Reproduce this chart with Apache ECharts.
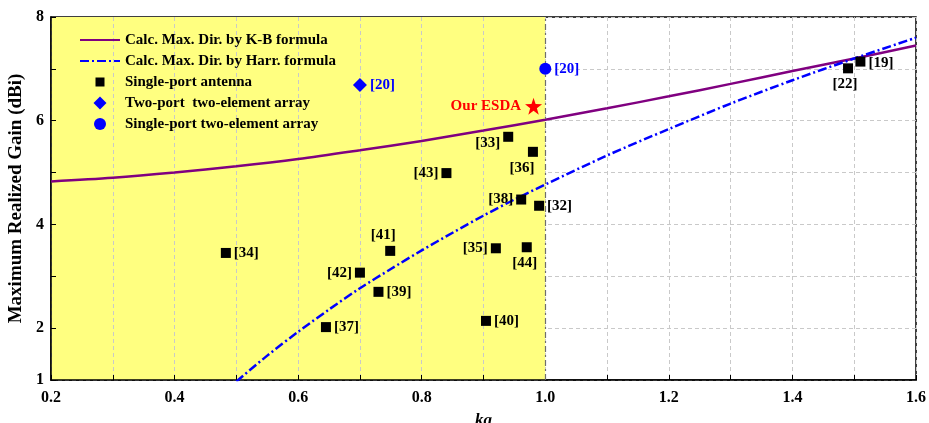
<!DOCTYPE html>
<html>
<head>
<meta charset="utf-8">
<script src="https://cdn.jsdelivr.net/npm/echarts@6/dist/echarts.min.js"></script>
<style>
  html, body { margin: 0; padding: 0; background: #fff; }
  #chart { width: 929px; height: 423px; }
</style>
</head>
<body>
<div id="chart"></div>
<script>
// Directivity limit from the K-B formula (dBi) sampled over ka
const kbKa   = [0.2, 0.3, 0.4, 0.5, 0.6, 0.7, 0.8, 0.9, 1.0, 1.1, 1.2, 1.3, 1.4, 1.5, 1.6];
const kbGain = [4.83, 4.90, 5.00, 5.12, 5.26, 5.43, 5.61, 5.81, 6.02, 6.24, 6.47, 6.71, 6.96, 7.20, 7.45];

// Directivity limit from the Harrington formula (dBi)
const harrKa   = [0.5, 0.55, 0.6, 0.65, 0.7, 0.75, 0.8, 0.85, 0.9, 0.95, 1.0, 1.1, 1.2, 1.3, 1.4, 1.5, 1.6];
const harrGain = [0.97, 1.47, 1.93, 2.36, 2.77, 3.14, 3.50, 3.84, 4.17, 4.48, 4.77, 5.33, 5.84, 6.33, 6.78, 7.20, 7.60];

// Single-port antennas from the literature
const singleRefs = ['[34]', '[37]', '[42]', '[39]', '[41]', '[43]', '[40]', '[35]', '[44]', '[33]', '[36]', '[38]', '[32]', '[22]', '[19]'];
const singleKa   = [0.483, 0.645, 0.700, 0.730, 0.749, 0.840, 0.904, 0.920, 0.970, 0.940, 0.980, 0.961, 0.990, 1.490, 1.510];
const singleGain = [3.45, 2.02, 3.07, 2.70, 3.49, 4.99, 2.14, 3.54, 3.56, 5.69, 5.40, 4.48, 4.36, 7.01, 7.14];

// Two-port two-element array
const twoPortRefs = ['[20]'];
const twoPortKa   = [0.700];
const twoPortGain = [6.69];

// Single-port two-element array
const onePortArrRefs = ['[20]'];
const onePortArrKa   = [1.000];
const onePortArrGain = [7.00];

// This work
const esdaName = ['Our ESDA'];
const esdaKa   = [0.981];
const esdaGain = [6.28];

// Electrically small region: ka from 0.2 up to 1.0
const smallRegion = [0.2, 1.0];

// Tick labels
const xTickLabels = ['0.2', '0.4', '0.6', '0.8', '1.0', '1.2', '1.4', '1.6'];
const yTickLabels = ['1', '2', '4', '6', '8'];

const FONT = "'Liberation Serif', 'Times New Roman', serif";
const X_MIN = 0.2, X_MAX = 1.6, X_STEP = 0.1;

// Where each literature label sits around its marker
const labelSide = {
  '[34]': { position: 'right' },
  '[37]': { position: 'right' },
  '[42]': { position: 'left' },
  '[39]': { position: 'right' },
  '[41]': { position: 'top', offset: [-7, 0] },
  '[43]': { position: 'left' },
  '[40]': { position: 'right' },
  '[35]': { position: 'left' },
  '[44]': { position: 'bottom', offset: [-2, 0] },
  '[33]': { position: 'left', offset: [0, 6] },
  '[36]': { position: 'bottom', offset: [-11, 1] },
  '[38]': { position: 'left' },
  '[32]': { position: 'right' },
  '[22]': { position: 'bottom', offset: [-3, 0] },
  '[19]': { position: 'right', offset: [0, 2] }
};

const zip = (xs, ys) => xs.map((x, i) => [x, ys[i]]);

const singleData = singleKa.map((x, i) => ({
  value: [x, singleGain[i]],
  name: singleRefs[i],
  label: Object.assign({}, labelSide[singleRefs[i]])
}));

// Background bands per 0.1 step of ka: yellow inside the small-antenna region
const bandColors = [];
for (let k = 0; k < Math.round((X_MAX - X_MIN) / X_STEP); k++) {
  const start = X_MIN + k * X_STEP;
  bandColors.push(start < smallRegion[1] - 1e-9 ? '#ffff80' : 'rgba(255,255,255,0)');
}

const labelText = {
  show: true,
  fontFamily: FONT,
  fontWeight: 'bold',
  fontSize: 15,
  distance: 3,
  formatter: p => p.name
};

// Legend glyphs, padded inside a 13x13 box so they keep their own size
const ICON_SQUARE  = 'path://M0,0M13,13M2,2H11V11H2Z';
const ICON_DIAMOND = 'path://M6.5,0L13,6.5L6.5,13L0,6.5Z';
const ICON_CIRCLE  = 'path://M0,0M13,13M6.5,0.5A6,6,0,1,1,6.5,12.5A6,6,0,1,1,6.5,0.5Z';

const chart = echarts.init(document.getElementById('chart'), null, { renderer: 'canvas' });

chart.setOption({
  animation: false,
  backgroundColor: '#ffffff',
  grid: {
    left: 51, right: 13, top: 17, bottom: 43,
    outerBoundsMode: 'none',
    containLabel: false,
    show: true, borderColor: '#000', borderWidth: 1.5, backgroundColor: 'transparent'
  },
  legend: {
    data: [
      { name: 'Calc. Max. Dir. by K-B formula', itemStyle: { opacity: 0 } },
      { name: 'Calc. Max. Dir. by Harr. formula', itemStyle: { opacity: 0 } },
      { name: 'Single-port antenna', icon: ICON_SQUARE },
      { name: 'Two-port  two-element array', icon: ICON_DIAMOND },
      { name: 'Single-port two-element array', icon: ICON_CIRCLE }
    ],
    orient: 'vertical',
    left: 79, top: 32,
    padding: 0,
    itemWidth: 40, itemHeight: 13, itemGap: 5,
    textStyle: { fontFamily: FONT, fontWeight: 'bold', fontSize: 15, color: '#000', lineHeight: 16 }
  },
  xAxis: {
    type: 'value',
    min: X_MIN, max: X_MAX, interval: X_STEP,
    name: 'ka', nameLocation: 'middle', nameGap: 32,
    nameTextStyle: { fontFamily: FONT, fontWeight: 'bold', fontStyle: 'italic', fontSize: 17, color: '#000' },
    axisLine: { lineStyle: { color: '#000', width: 1.5 } },
    axisTick: { inside: true, length: 5, lineStyle: { color: '#000', width: 1 } },
    axisLabel: {
      fontFamily: FONT, fontWeight: 'bold', fontSize: 16, color: '#000', margin: 10,
      formatter: v => {
        const s = v.toFixed(1);
        return xTickLabels.includes(s) ? s : '';
      }
    },
    splitArea: { show: true, areaStyle: { color: bandColors } },
    splitLine: { show: true, lineStyle: { color: '#c9c9c9', type: [4, 3], width: 1 } }
  },
  yAxis: {
    type: 'value',
    min: 1, max: 8, interval: 1,
    name: 'Maximum Realized Gain (dBi)', nameLocation: 'middle', nameGap: 20,
    nameTextStyle: { fontFamily: FONT, fontWeight: 'bold', fontSize: 19, color: '#000' },
    axisLine: { lineStyle: { color: '#000', width: 1.5 } },
    axisTick: { inside: true, length: 5, lineStyle: { color: '#000', width: 1 } },
    axisLabel: {
      fontFamily: FONT, fontWeight: 'bold', fontSize: 16, color: '#000', margin: 7,
      formatter: v => {
        const s = String(Math.round(v));
        return yTickLabels.includes(s) ? s : '';
      }
    },
    splitLine: { show: true, lineStyle: { color: '#c9c9c9', type: [4, 3], width: 1 } }
  },
  series: [
    {
      name: 'Calc. Max. Dir. by K-B formula',
      type: 'line',
      data: zip(kbKa, kbGain),
      smooth: 0.3,
      symbol: 'none',
      lineStyle: { color: '#800080', width: 2.5 },
      itemStyle: { color: '#800080' },
      // boundary of the electrically small region
      markLine: {
        silent: true,
        symbol: 'none',
        label: { show: false },
        lineStyle: { color: '#6e6e6e', type: [6, 3, 2, 3], width: 1.2 },
        data: [{ xAxis: smallRegion[1] }]
      },
      z: 3
    },
    {
      name: 'Calc. Max. Dir. by Harr. formula',
      type: 'line',
      data: zip(harrKa, harrGain),
      smooth: 0.3,
      symbol: 'none',
      clip: true,
      lineStyle: { color: '#0000ff', width: 2.5, type: [9, 3, 2, 3] },
      itemStyle: { color: '#0000ff' },
      z: 3
    },
    {
      name: 'Single-port antenna',
      type: 'scatter',
      symbol: 'rect',
      symbolSize: 10,
      itemStyle: { color: '#000', opacity: 1 },
      label: Object.assign({}, labelText, { color: '#000' }),
      data: singleData,
      z: 5
    },
    {
      name: 'Two-port  two-element array',
      type: 'scatter',
      symbol: 'diamond',
      symbolSize: 14,
      itemStyle: { color: '#0000ff', opacity: 1 },
      label: Object.assign({}, labelText, { color: '#0000ff', position: 'right' }),
      data: twoPortKa.map((x, i) => ({ value: [x, twoPortGain[i]], name: twoPortRefs[i] })),
      z: 5
    },
    {
      name: 'Single-port two-element array',
      type: 'scatter',
      symbol: 'circle',
      symbolSize: 12,
      itemStyle: { color: '#0000ff', opacity: 1 },
      label: Object.assign({}, labelText, { color: '#0000ff', position: 'right' }),
      data: onePortArrKa.map((x, i) => ({ value: [x, onePortArrGain[i]], name: onePortArrRefs[i] })),
      z: 5
    },
    {
      name: 'Our ESDA',
      type: 'scatter',
      symbol: 'path://M50,0 L61.8,35.1 L98.9,35.5 L69.1,57.6 L80.2,93.1 L50,71.5 L19.8,93.1 L30.9,57.6 L1.1,35.5 L38.2,35.1 Z',
      symbolSize: 17,
      itemStyle: { color: '#ff0000', opacity: 1 },
      label: Object.assign({}, labelText, { color: '#ff0000', position: 'left', distance: 4 }),
      data: esdaKa.map((x, i) => ({ value: [x, esdaGain[i]], name: esdaName[i] })),
      z: 5
    }
  ]
});
</script>
</body>
</html>
